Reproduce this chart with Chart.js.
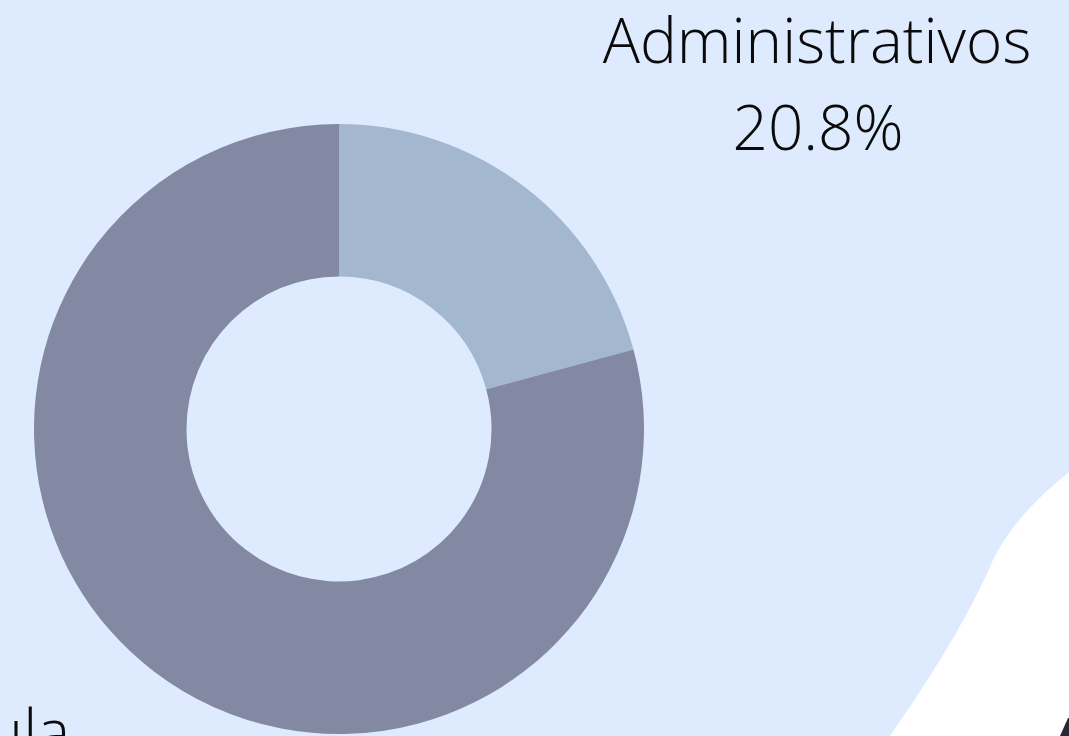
<!DOCTYPE html>
<html>
<head>
<meta charset="utf-8">
<script src="https://cdn.jsdelivr.net/npm/chart.js@4"></script>
<style>
html,body{margin:0;padding:0;background:#deebfe;overflow:hidden;}
#wrap{width:1069px;height:736px;position:relative;}
</style>
</head>
<body>
<div id="wrap"><canvas id="c" width="1069" height="736"></canvas></div>
<script>
const categories = ['Administrativos', 'Aula'];
const values = [20.8, 79.2];
const percentLabels = ['20.8%', '79.2%'];
const colors = ['#a3b7cf', '#8489a3'];

const bgPlugin = {
  id: 'bg',
  beforeDraw(chart) {
    const ctx = chart.ctx;
    ctx.save();
    ctx.fillStyle = '#deebfe';
    ctx.fillRect(0, 0, chart.width, chart.height);
    // white decorative shape bottom-right
    ctx.fillStyle = '#ffffff';
    ctx.beginPath();
    ctx.moveTo(1069, 472);
    ctx.bezierCurveTo(1040, 495, 1005, 530, 990, 567);
    ctx.bezierCurveTo(975, 600, 950, 650, 890, 736);
    ctx.lineTo(1069, 736);
    ctx.closePath();
    ctx.fill();
    // dark decorative corner glyph
    ctx.fillStyle = '#2b2536';
    ctx.beginPath();
    ctx.moveTo(1068, 718);
    ctx.lineTo(1069, 718);
    ctx.lineTo(1069, 736);
    ctx.lineTo(1060, 736);
    ctx.closePath();
    ctx.fill();
    ctx.restore();
  }
};

const labelPlugin = {
  id: 'sliceLabels',
  afterDraw(chart) {
    const ctx = chart.ctx;
    ctx.save();
    ctx.fillStyle = '#0a0a0a';
    ctx.font = '300 62px "Open Sans"';
    ctx.textBaseline = 'alphabetic';
    ctx.textAlign = 'center';
    // Administrativos label
    ctx.fillText(categories[0], 817, 63);
    ctx.fillText(percentLabels[0], 818, 150);
    // second label, mostly off-canvas
    const w = ctx.measureText(categories[1]).width;
    const cx = 70 - w / 2;
    ctx.fillText(categories[1], cx, 754);
    ctx.fillText(percentLabels[1], cx, 840);
    ctx.restore();
  }
};

new Chart(document.getElementById('c'), {
  type: 'doughnut',
  data: {
    labels: categories,
    datasets: [{
      data: values,
      backgroundColor: colors,
      borderWidth: 0,
      hoverOffset: 0
    }]
  },
  options: {
    responsive: false,
    animation: false,
    cutout: '50%',
    layout: { padding: { left: 34, right: 425, top: 124, bottom: 2 } },
    plugins: {
      legend: { display: false },
      tooltip: { enabled: false },
      title: { display: false }
    }
  },
  plugins: [bgPlugin, labelPlugin]
});
</script>
</body>
</html>
